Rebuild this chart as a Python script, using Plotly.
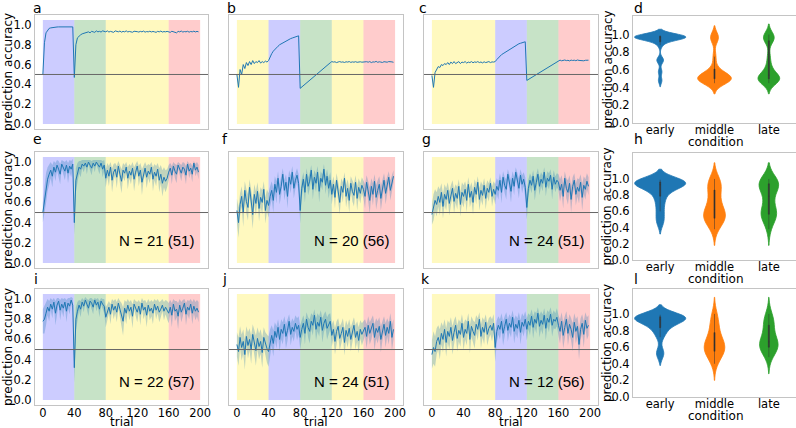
import plotly.graph_objects as go
from plotly.subplots import make_subplots

W, H = 796, 428

# trial index (every second trial)
TRIALS = list(range(0, 200, 2))

# condition blocks for the three columns: (first trial, last trial, colour)
blocks_col1 = [(0, 40, "blue"), (40, 80, "green"), (80, 160, "yellow"), (160, 200, "red")]
blocks_col2 = [(0, 40, "yellow"), (40, 80, "blue"), (80, 120, "green"), (120, 160, "yellow"), (160, 200, "red")]
blocks_col3 = [(0, 80, "yellow"), (80, 120, "blue"), (120, 160, "green"), (160, 200, "red")]

# row 1: model curves
acc_a = [0.50, 0.82, 0.92, 0.95, 0.965, 0.97, 0.974, 0.977, 0.978, 0.979, 0.98, 0.98, 0.98, 0.98, 0.98, 0.98, 0.98, 0.98, 0.98, 0.98,
         0.47, 0.80, 0.87, 0.89, 0.90, 0.91, 0.915, 0.92, 0.925, 0.93, 0.92, 0.935, 0.93, 0.925, 0.94, 0.93, 0.935, 0.928, 0.94, 0.932,
         0.93, 0.94, 0.928, 0.935, 0.93, 0.925, 0.94, 0.932, 0.93, 0.938, 0.927, 0.935, 0.93, 0.94, 0.929, 0.934, 0.93, 0.926, 0.936, 0.93,
         0.932, 0.928, 0.935, 0.93, 0.938, 0.927, 0.933, 0.93, 0.936, 0.929, 0.934, 0.93, 0.925, 0.935, 0.93, 0.938, 0.928, 0.933, 0.93, 0.935,
         0.93, 0.925, 0.936, 0.93, 0.932, 0.92, 0.935, 0.93, 0.938, 0.928, 0.933, 0.93, 0.936, 0.927, 0.934, 0.93, 0.937, 0.929, 0.935, 0.93]
acc_b = [0.50, 0.37, 0.55, 0.50, 0.60, 0.56, 0.62, 0.59, 0.63, 0.60, 0.64, 0.61, 0.63, 0.62, 0.64, 0.615, 0.63, 0.62, 0.635, 0.625,
         0.64, 0.68, 0.71, 0.735, 0.755, 0.77, 0.785, 0.80, 0.81, 0.82, 0.83, 0.84, 0.848, 0.855, 0.862, 0.868, 0.874, 0.88, 0.885, 0.89,
         0.36, 0.374, 0.388, 0.40, 0.415, 0.43, 0.443, 0.456, 0.47, 0.484, 0.497, 0.51, 0.524, 0.538, 0.55, 0.565, 0.578, 0.59, 0.605, 0.618,
         0.63, 0.625, 0.628, 0.62, 0.626, 0.63, 0.624, 0.627, 0.621, 0.628, 0.625, 0.63, 0.622, 0.627, 0.624, 0.629, 0.623, 0.626, 0.628, 0.624,
         0.626, 0.622, 0.629, 0.624, 0.63, 0.62, 0.627, 0.625, 0.632, 0.623, 0.628, 0.625, 0.621, 0.629, 0.626, 0.624, 0.63, 0.625, 0.627, 0.623]
acc_c = [0.49, 0.37, 0.52, 0.55, 0.58, 0.57, 0.60, 0.59, 0.61, 0.60, 0.62, 0.60, 0.625, 0.61, 0.63, 0.61, 0.62, 0.63, 0.61, 0.625,
         0.62, 0.63, 0.615, 0.625, 0.62, 0.63, 0.618, 0.627, 0.622, 0.63, 0.62, 0.626, 0.617, 0.628, 0.62, 0.625, 0.63, 0.62, 0.627, 0.625,
         0.63, 0.65, 0.67, 0.685, 0.70, 0.71, 0.72, 0.735, 0.745, 0.755, 0.765, 0.775, 0.785, 0.79, 0.80, 0.81, 0.815, 0.82, 0.825, 0.83,
         0.44, 0.45, 0.46, 0.47, 0.48, 0.49, 0.50, 0.51, 0.52, 0.53, 0.54, 0.55, 0.56, 0.57, 0.58, 0.59, 0.60, 0.61, 0.62, 0.63,
         0.64, 0.645, 0.638, 0.642, 0.646, 0.64, 0.643, 0.637, 0.645, 0.641, 0.644, 0.639, 0.646, 0.642, 0.64, 0.645, 0.638, 0.643, 0.641, 0.644]

# rows 2 and 3: participant means and spread of the shaded band
acc_e = [0.50, 0.62, 0.74, 0.83, 0.88, 0.92, 0.86, 0.95, 0.90, 0.97, 0.93, 0.88, 0.98, 0.94, 0.91, 0.97, 0.89, 0.96, 0.93, 0.98,
         0.40, 0.82, 0.90, 0.95, 0.93, 0.98, 0.96, 0.99, 0.95, 1.00, 0.97, 0.94, 0.99, 0.96, 1.00, 0.98, 0.95, 0.99, 0.93, 0.97,
         0.84, 0.92, 0.86, 0.95, 0.82, 0.90, 0.93, 0.85, 0.96, 0.88, 0.81, 0.92, 0.89, 0.95, 0.84, 0.91, 0.87, 0.94, 0.83, 0.90,
         0.96, 0.86, 0.92, 0.80, 0.89, 0.94, 0.85, 0.91, 0.88, 0.95, 0.83, 0.90, 0.86, 0.93, 0.82, 0.88, 0.79, 0.85, 0.81, 0.84,
         0.90, 0.94, 0.87, 0.96, 0.91, 0.88, 0.97, 0.92, 0.89, 0.95, 0.93, 0.87, 0.98, 0.91, 0.94, 0.88, 0.99, 0.92, 0.95, 0.90]
spread_e = [0.10, 0.14, 0.15, 0.12, 0.10, 0.08, 0.11, 0.06, 0.09, 0.05, 0.08, 0.10, 0.04, 0.07, 0.09, 0.05, 0.10, 0.06, 0.08, 0.05,
            0.12, 0.12, 0.09, 0.06, 0.08, 0.04, 0.06, 0.03, 0.07, 0.02, 0.05, 0.07, 0.03, 0.06, 0.02, 0.04, 0.07, 0.03, 0.08, 0.05,
            0.09, 0.07, 0.10, 0.05, 0.12, 0.08, 0.06, 0.11, 0.05, 0.09, 0.12, 0.07, 0.08, 0.05, 0.11, 0.07, 0.09, 0.06, 0.12, 0.08,
            0.05, 0.10, 0.07, 0.13, 0.08, 0.06, 0.11, 0.07, 0.09, 0.05, 0.12, 0.08, 0.10, 0.06, 0.12, 0.09, 0.13, 0.10, 0.11, 0.09,
            0.07, 0.05, 0.09, 0.04, 0.07, 0.09, 0.03, 0.06, 0.08, 0.05, 0.06, 0.09, 0.03, 0.07, 0.05, 0.08, 0.02, 0.06, 0.05, 0.07]

acc_f = [0.52, 0.40, 0.58, 0.66, 0.50, 0.72, 0.61, 0.55, 0.75, 0.63, 0.48, 0.68, 0.59, 0.71, 0.54, 0.65, 0.60, 0.73, 0.52, 0.62,
         0.57, 0.66, 0.72, 0.62, 0.78, 0.70, 0.84, 0.68, 0.76, 0.88, 0.72, 0.80, 0.66, 0.85, 0.78, 0.90, 0.74, 0.82, 0.87, 0.79,
         0.52, 0.74, 0.83, 0.70, 0.88, 0.76, 0.81, 0.92, 0.73, 0.85, 0.79, 0.90, 0.71, 0.84, 0.80, 0.93, 0.77, 0.86, 0.74, 0.82,
         0.68, 0.78, 0.65, 0.82, 0.72, 0.60, 0.76, 0.70, 0.84, 0.66, 0.74, 0.62, 0.79, 0.71, 0.67, 0.80, 0.64, 0.75, 0.69, 0.77,
         0.73, 0.66, 0.80, 0.70, 0.62, 0.76, 0.68, 0.81, 0.65, 0.72, 0.78, 0.64, 0.74, 0.82, 0.69, 0.77, 0.85, 0.72, 0.80, 0.86]
spread_f = [0.12, 0.15, 0.11, 0.10, 0.14, 0.09, 0.12, 0.13, 0.08, 0.11, 0.14, 0.10, 0.12, 0.09, 0.13, 0.10, 0.12, 0.08, 0.13, 0.11,
            0.12, 0.10, 0.09, 0.12, 0.08, 0.11, 0.07, 0.10, 0.09, 0.06, 0.10, 0.08, 0.12, 0.07, 0.09, 0.06, 0.10, 0.08, 0.07, 0.09,
            0.13, 0.09, 0.07, 0.10, 0.06, 0.09, 0.08, 0.05, 0.10, 0.07, 0.09, 0.06, 0.11, 0.07, 0.08, 0.05, 0.09, 0.07, 0.10, 0.08,
            0.10, 0.08, 0.11, 0.07, 0.09, 0.12, 0.08, 0.10, 0.06, 0.11, 0.09, 0.12, 0.07, 0.10, 0.11, 0.07, 0.12, 0.09, 0.10, 0.08,
            0.09, 0.12, 0.07, 0.10, 0.13, 0.08, 0.11, 0.07, 0.12, 0.10, 0.08, 0.12, 0.09, 0.07, 0.11, 0.08, 0.06, 0.10, 0.08, 0.06]

acc_g = [0.48, 0.55, 0.62, 0.58, 0.66, 0.60, 0.70, 0.56, 0.68, 0.63, 0.72, 0.59, 0.67, 0.74, 0.61, 0.69, 0.64, 0.76, 0.58, 0.70,
         0.66, 0.73, 0.62, 0.78, 0.65, 0.71, 0.60, 0.75, 0.68, 0.80, 0.63, 0.72, 0.67, 0.77, 0.64, 0.74, 0.70, 0.79, 0.66, 0.73,
         0.68, 0.76, 0.72, 0.82, 0.70, 0.85, 0.77, 0.73, 0.88, 0.79, 0.71, 0.84, 0.76, 0.90, 0.80, 0.74, 0.87, 0.78, 0.83, 0.75,
         0.55, 0.74, 0.82, 0.77, 0.86, 0.72, 0.80, 0.88, 0.76, 0.83, 0.79, 0.90, 0.75, 0.84, 0.81, 0.87, 0.73, 0.85, 0.78, 0.82,
         0.80, 0.72, 0.78, 0.66, 0.84, 0.74, 0.70, 0.79, 0.63, 0.76, 0.82, 0.68, 0.75, 0.71, 0.80, 0.65, 0.77, 0.73, 0.81, 0.76]
spread_g = [0.10, 0.13, 0.11, 0.12, 0.10, 0.13, 0.09, 0.12, 0.10, 0.11, 0.08, 0.12, 0.10, 0.08, 0.12, 0.09, 0.11, 0.07, 0.12, 0.10,
            0.11, 0.08, 0.12, 0.07, 0.10, 0.09, 0.12, 0.08, 0.10, 0.06, 0.11, 0.09, 0.10, 0.07, 0.11, 0.08, 0.09, 0.06, 0.10, 0.08,
            0.10, 0.08, 0.09, 0.07, 0.11, 0.06, 0.08, 0.10, 0.05, 0.08, 0.11, 0.07, 0.09, 0.05, 0.08, 0.10, 0.06, 0.09, 0.07, 0.10,
            0.12, 0.09, 0.07, 0.08, 0.06, 0.10, 0.08, 0.06, 0.09, 0.07, 0.08, 0.05, 0.09, 0.07, 0.08, 0.06, 0.10, 0.07, 0.08, 0.07,
            0.08, 0.11, 0.09, 0.12, 0.07, 0.10, 0.12, 0.08, 0.13, 0.09, 0.07, 0.11, 0.09, 0.12, 0.08, 0.13, 0.09, 0.10, 0.08, 0.09]

acc_i = [0.78, 0.80, 0.86, 0.92, 0.88, 0.95, 0.90, 0.97, 0.86, 0.94, 0.98, 0.89, 0.95, 0.91, 0.97, 0.88, 0.96, 0.93, 0.99, 0.94,
         0.32, 0.80, 0.88, 0.94, 0.90, 0.97, 0.93, 0.99, 0.95, 0.91, 0.98, 0.96, 0.92, 0.99, 0.94, 0.97, 0.90, 0.98, 0.95, 0.93,
         0.82, 0.88, 0.92, 0.85, 0.95, 0.89, 0.93, 0.87, 0.96, 0.90, 0.84, 0.78, 0.91, 0.86, 0.94, 0.88, 0.92, 0.83, 0.95, 0.90,
         0.87, 0.93, 0.85, 0.96, 0.89, 0.92, 0.84, 0.94, 0.88, 0.91, 0.86, 0.95, 0.89, 0.93, 0.87, 0.90, 0.94, 0.88, 0.92, 0.89,
         0.86, 0.92, 0.84, 0.95, 0.88, 0.90, 0.83, 0.94, 0.87, 0.91, 0.96, 0.85, 0.92, 0.89, 0.95, 0.86, 0.93, 0.88, 0.91, 0.87]
spread_i = [0.12, 0.14, 0.12, 0.08, 0.10, 0.06, 0.09, 0.04, 0.12, 0.07, 0.03, 0.10, 0.06, 0.09, 0.04, 0.11, 0.05, 0.08, 0.03, 0.07,
            0.15, 0.12, 0.09, 0.05, 0.08, 0.04, 0.06, 0.03, 0.05, 0.08, 0.03, 0.05, 0.07, 0.02, 0.06, 0.04, 0.08, 0.03, 0.05, 0.07,
            0.10, 0.08, 0.06, 0.10, 0.05, 0.09, 0.07, 0.10, 0.05, 0.08, 0.12, 0.14, 0.08, 0.11, 0.06, 0.09, 0.07, 0.12, 0.05, 0.08,
            0.10, 0.06, 0.11, 0.05, 0.09, 0.07, 0.12, 0.06, 0.09, 0.08, 0.11, 0.05, 0.09, 0.07, 0.10, 0.08, 0.06, 0.09, 0.07, 0.09,
            0.10, 0.07, 0.12, 0.05, 0.10, 0.08, 0.13, 0.06, 0.10, 0.08, 0.04, 0.11, 0.07, 0.09, 0.05, 0.11, 0.07, 0.09, 0.08, 0.10]

acc_j = [0.55, 0.48, 0.62, 0.52, 0.58, 0.45, 0.63, 0.54, 0.60, 0.50, 0.65, 0.56, 0.49, 0.61, 0.53, 0.58, 0.47, 0.62, 0.55, 0.51,
         0.48, 0.58, 0.64, 0.56, 0.68, 0.62, 0.72, 0.60, 0.70, 0.66, 0.75, 0.63, 0.69, 0.78, 0.65, 0.72, 0.68, 0.76, 0.70, 0.74,
         0.62, 0.70, 0.76, 0.66, 0.80, 0.72, 0.68, 0.78, 0.74, 0.84, 0.70, 0.77, 0.73, 0.82, 0.69, 0.76, 0.80, 0.71, 0.75, 0.78,
         0.64, 0.70, 0.58, 0.68, 0.73, 0.61, 0.66, 0.72, 0.57, 0.69, 0.63, 0.71, 0.60, 0.67, 0.74, 0.62, 0.68, 0.59, 0.70, 0.65,
         0.68, 0.72, 0.63, 0.74, 0.66, 0.70, 0.76, 0.62, 0.71, 0.67, 0.73, 0.60, 0.69, 0.75, 0.64, 0.72, 0.66, 0.78, 0.62, 0.70]
spread_j = [0.12, 0.14, 0.11, 0.13, 0.12, 0.15, 0.10, 0.13, 0.11, 0.14, 0.10, 0.12, 0.15, 0.11, 0.13, 0.12, 0.15, 0.10, 0.12, 0.14,
            0.15, 0.12, 0.10, 0.13, 0.09, 0.11, 0.08, 0.12, 0.10, 0.11, 0.08, 0.12, 0.10, 0.07, 0.11, 0.09, 0.10, 0.08, 0.11, 0.09,
            0.12, 0.10, 0.08, 0.11, 0.07, 0.10, 0.12, 0.08, 0.10, 0.06, 0.11, 0.09, 0.10, 0.07, 0.12, 0.09, 0.08, 0.11, 0.10, 0.08,
            0.11, 0.09, 0.13, 0.10, 0.08, 0.12, 0.10, 0.09, 0.13, 0.10, 0.11, 0.09, 0.12, 0.10, 0.08, 0.12, 0.10, 0.13, 0.09, 0.11,
            0.10, 0.08, 0.12, 0.09, 0.11, 0.10, 0.08, 0.13, 0.10, 0.11, 0.09, 0.13, 0.10, 0.08, 0.12, 0.09, 0.11, 0.08, 0.13, 0.10]

acc_k = [0.45, 0.52, 0.48, 0.58, 0.62, 0.55, 0.66, 0.60, 0.70, 0.57, 0.68, 0.63, 0.72, 0.59, 0.67, 0.74, 0.61, 0.69, 0.65, 0.76,
         0.62, 0.70, 0.66, 0.78, 0.60, 0.73, 0.68, 0.64, 0.75, 0.70, 0.80, 0.63, 0.72, 0.67, 0.77, 0.65, 0.71, 0.74, 0.69, 0.76,
         0.52, 0.68, 0.74, 0.70, 0.78, 0.66, 0.73, 0.80, 0.69, 0.76, 0.72, 0.82, 0.68, 0.75, 0.71, 0.79, 0.67, 0.77, 0.73, 0.80,
         0.70, 0.78, 0.74, 0.83, 0.72, 0.80, 0.76, 0.86, 0.73, 0.79, 0.75, 0.84, 0.71, 0.81, 0.77, 0.85, 0.74, 0.80, 0.78, 0.82,
         0.74, 0.68, 0.78, 0.64, 0.72, 0.80, 0.66, 0.75, 0.70, 0.62, 0.77, 0.68, 0.73, 0.55, 0.70, 0.76, 0.65, 0.79, 0.71, 0.74]
spread_k = [0.14, 0.16, 0.15, 0.13, 0.12, 0.15, 0.11, 0.13, 0.10, 0.14, 0.11, 0.13, 0.10, 0.14, 0.12, 0.09, 0.13, 0.11, 0.12, 0.09,
            0.13, 0.10, 0.12, 0.08, 0.14, 0.10, 0.11, 0.13, 0.09, 0.11, 0.07, 0.12, 0.10, 0.12, 0.08, 0.11, 0.10, 0.09, 0.11, 0.09,
            0.14, 0.11, 0.09, 0.10, 0.08, 0.12, 0.10, 0.07, 0.11, 0.09, 0.10, 0.07, 0.12, 0.09, 0.10, 0.08, 0.12, 0.09, 0.10, 0.08,
            0.11, 0.08, 0.10, 0.07, 0.11, 0.08, 0.10, 0.06, 0.11, 0.09, 0.10, 0.07, 0.12, 0.08, 0.10, 0.07, 0.11, 0.09, 0.08, 0.09,
            0.10, 0.12, 0.09, 0.13, 0.11, 0.08, 0.12, 0.10, 0.11, 0.14, 0.09, 0.12, 0.10, 0.15, 0.11, 0.09, 0.13, 0.08, 0.11, 0.10]

n_labels = ["N = 21 (51)", "N = 20 (56)", "N = 24 (51)", "N = 22 (57)", "N = 24 (51)", "N = 12 (56)"]

# column d: accuracy per condition (violins)
conditions = ["early", "middle", "late"]
viol_d = {
    "early": [0.99, 0.98, 0.98, 0.97, 0.97, 0.98, 0.96, 0.99, 0.97, 0.98, 0.96, 0.97, 0.98, 0.95, 0.97, 0.93, 0.88, 0.72, 0.70, 0.58, 0.48],
    "middle": [0.45, 0.48, 0.50, 0.50, 0.52, 0.50, 0.55, 0.47, 0.50, 0.53, 0.58, 0.50, 0.62, 0.49, 0.51, 0.95, 0.97, 0.98, 0.75],
    "late": [0.45, 0.50, 0.50, 0.52, 0.48, 0.55, 0.50, 0.60, 0.50, 0.53, 0.47, 0.95, 0.97, 1.00, 0.98, 0.93, 0.75, 0.65],
}
viol_h = {
    "early": [0.97, 0.95, 0.98, 0.93, 0.96, 0.99, 0.94, 0.97, 0.92, 0.96, 0.98, 0.90, 0.95, 0.88, 0.85, 0.80, 0.75, 0.68, 0.60, 0.52, 0.45],
    "middle": [0.38, 0.45, 0.50, 0.52, 0.55, 0.55, 0.58, 0.60, 0.62, 0.50, 0.65, 0.70, 0.75, 0.80, 0.85, 0.90, 0.95, 0.97, 1.00, 0.93, 0.48],
    "late": [0.38, 0.50, 0.55, 0.55, 0.58, 0.60, 0.62, 0.52, 0.70, 0.75, 0.82, 0.88, 0.90, 0.92, 0.95, 0.95, 0.97, 1.00, 0.98, 0.93],
}
viol_l = {
    "early": [0.97, 0.95, 0.96, 0.98, 0.94, 0.97, 0.93, 0.96, 0.99, 0.95, 0.92, 0.90, 0.97, 0.88, 0.85, 0.82, 0.78, 0.72, 0.55, 0.50],
    "middle": [0.40, 0.48, 0.52, 0.55, 0.58, 0.60, 0.60, 0.62, 0.63, 0.65, 0.55, 0.68, 0.70, 0.75, 0.80, 0.85, 0.90, 0.95, 1.00, 0.50],
    "late": [0.48, 0.55, 0.58, 0.60, 0.62, 0.62, 0.64, 0.65, 0.68, 0.60, 0.70, 0.72, 0.78, 0.85, 0.88, 0.90, 0.92, 0.95, 1.00, 0.57],
}

# ---- styling ----
band_colors = {"blue": "rgba(0,0,255,0.2)", "green": "rgba(0,128,0,0.22)",
               "yellow": "rgba(255,232,0,0.25)", "red": "rgba(255,0,0,0.2)"}
viol_colors = {"early": "#1f77b4", "middle": "#ff7f0e", "late": "#2ca02c"}
line_color = "#1f77b4"
frame_color = "#c4c4c4"
font = "DejaVu Sans"

# pixel boxes of the axes (left, right) and (top, bottom)
col_px = [(35, 208), (229, 403), (424, 598), (633, 796)]
row_px = [(15, 129), (152, 268), (289, 405)]
vrow_px = [(16, 123), (153, 260), (289, 397)]

fig = make_subplots(rows=3, cols=4)

panels = [[acc_a, acc_b, acc_c], [acc_e, acc_f, acc_g], [acc_i, acc_j, acc_k]]
spreads = [[None, None, None], [spread_e, spread_f, spread_g], [spread_i, spread_j, spread_k]]
blocks = [blocks_col1, blocks_col2, blocks_col3]
violins = [viol_d, viol_h, viol_l]

for r in range(3):
    for c in range(3):
        for start, end, name in blocks[c]:
            fig.add_shape(type="rect", x0=start, x1=end, y0=0, y1=1.05, fillcolor=band_colors[name],
                          line_width=0, layer="below", row=r + 1, col=c + 1)
        fig.add_hline(y=0.5, line_color="#666666", line_width=1, row=r + 1, col=c + 1)
        sp = spreads[r][c]
        if sp is not None:
            mean = panels[r][c]
            fig.add_trace(go.Scatter(x=TRIALS, y=[m - s for m, s in zip(mean, sp)], mode="lines",
                                     line=dict(width=0), showlegend=False, hoverinfo="skip"),
                          row=r + 1, col=c + 1)
            fig.add_trace(go.Scatter(x=TRIALS, y=[m + s for m, s in zip(mean, sp)], mode="lines",
                                     line=dict(width=0), fill="tonexty", fillcolor="rgba(31,119,180,0.28)",
                                     showlegend=False, hoverinfo="skip"),
                          row=r + 1, col=c + 1)
        fig.add_trace(go.Scatter(x=TRIALS, y=panels[r][c], mode="lines",
                                 line=dict(color=line_color, width=1), showlegend=False),
                      row=r + 1, col=c + 1)

# violins
viol_width = {"d": {"early": 0.94, "middle": 0.62, "late": 0.40},
              "h": {"early": 0.94, "middle": 0.40, "late": 0.36},
              "l": {"early": 0.94, "middle": 0.38, "late": 0.34}}
viol_bw = {"d": {"early": 0.035, "middle": 0.06, "late": 0.06},
           "h": {"early": 0.065, "middle": 0.1, "late": 0.1},
           "l": {"early": 0.06, "middle": 0.1, "late": 0.1}}
for r, key in enumerate(["d", "h", "l"]):
    for cond in conditions:
        w = viol_width[key][cond]
        fig.add_trace(go.Violin(y=violins[r][cond], name=cond, fillcolor=viol_colors[cond],
                                line=dict(color=viol_colors[cond], width=0.8), opacity=1,
                                width=w, bandwidth=viol_bw[key][cond], points=False, spanmode="soft",
                                box=dict(visible=True, width=0.02 / w, fillcolor="#333333",
                                         line=dict(color="#333333", width=0.5)),
                                meanline_visible=False, showlegend=False),
                      row=r + 1, col=4)

tick_font = dict(family=font, size=11.5, color="black")
for r in range(3):
    for c in range(4):
        x0, x1 = col_px[c]
        top, bot = (vrow_px if c == 3 else row_px)[r]
        fig.update_xaxes(domain=[x0 / W, x1 / W], showline=True, mirror=True, linecolor=frame_color,
                         linewidth=1, showgrid=False, zeroline=False, ticks="", tickfont=tick_font,
                         automargin=False, ticklabelstandoff=-3, row=r + 1, col=c + 1)
        fig.update_yaxes(domain=[1 - bot / H, 1 - top / H], showline=True, mirror=True, linecolor=frame_color,
                         linewidth=1, showgrid=False, zeroline=False, ticks="", tickfont=tick_font,
                         tickvals=[0, 0.2, 0.4, 0.6, 0.8, 1.0], tickformat=".1f", automargin=False,
                         row=r + 1, col=c + 1)
        if c < 3:
            fig.update_xaxes(range=[-10, 210], tickvals=[0, 40, 80, 120, 160, 200],
                             showticklabels=(r == 2), row=r + 1, col=c + 1)
            fig.update_yaxes(range=[-0.05, 1.1], showticklabels=(c == 0), row=r + 1, col=c + 1)
        else:
            fig.update_xaxes(type="category", range=[-0.5, 2.5], ticklabelstandoff=-4, row=r + 1, col=c + 1)
            fig.update_yaxes(range=[0, [1.21, 1.32, 1.30][r]], row=r + 1, col=c + 1)

# N annotations
n_rows = [(2, c) for c in range(3)] + [(3, c) for c in range(3)]
for (r, c), txt in zip(n_rows, n_labels):
    fig.add_annotation(text=txt, x=195, y=0.22 if r == 2 else 0.18, xanchor="right", yanchor="middle",
                       showarrow=False, font=dict(family="Liberation Sans", size=15, color="black"),
                       row=r, col=c + 1)

# axis titles and panel letters as paper annotations
title_font = dict(family=font, size=12, color="black")
for r in range(3):
    top, bot = row_px[r]
    vtop, vbot = vrow_px[r]
    fig.add_annotation(text="prediction accuracy", x=8 / W, y=1 - (top + bot) / 2 / H, xref="paper", yref="paper",
                       textangle=-90, showarrow=False, font=title_font, xanchor="center", yanchor="middle")
    fig.add_annotation(text="prediction accuracy", x=607 / W, y=1 - (vtop + vbot) / 2 / H, xref="paper",
                       yref="paper", textangle=-90, showarrow=False, font=title_font,
                       xanchor="center", yanchor="middle")
    fig.add_annotation(text="condition", x=(661.7 + 54.2) / W, y=1 - (vbot + 19) / H, xref="paper", yref="paper",
                       showarrow=False, font=title_font, xanchor="center", yanchor="middle")
for c in range(3):
    x0, x1 = col_px[c]
    fig.add_annotation(text="trial", x=(x0 + x1) / 2 / W, y=1 - 422 / H, xref="paper", yref="paper",
                       showarrow=False, font=title_font, xanchor="center", yanchor="middle")

letters = ["a", "b", "c", "d", "e", "f", "g", "h", "i", "j", "k", "l"]
letter_x = [32, 226, 418, 633, 32, 221, 421, 633, 33, 221, 420, 633]
letter_y = [17, 148, 288]
for i, let in enumerate(letters):
    fig.add_annotation(text=let, x=letter_x[i] / W, y=1 - letter_y[i // 4] / H, xref="paper", yref="paper",
                       showarrow=False, font=dict(family=font, size=14, color="black"),
                       xanchor="left", yanchor="bottom", borderpad=0)

fig.update_layout(width=W, height=H, margin=dict(l=0, r=0, t=0, b=0),
                  plot_bgcolor="white", paper_bgcolor="white", font=dict(family=font))

# the page body has a default 8px margin; drop it so the figure sits at the window's corner
fig.write_html("out.html", config={"displayModeBar": False},
               post_script="document.body.style.margin='0';")
